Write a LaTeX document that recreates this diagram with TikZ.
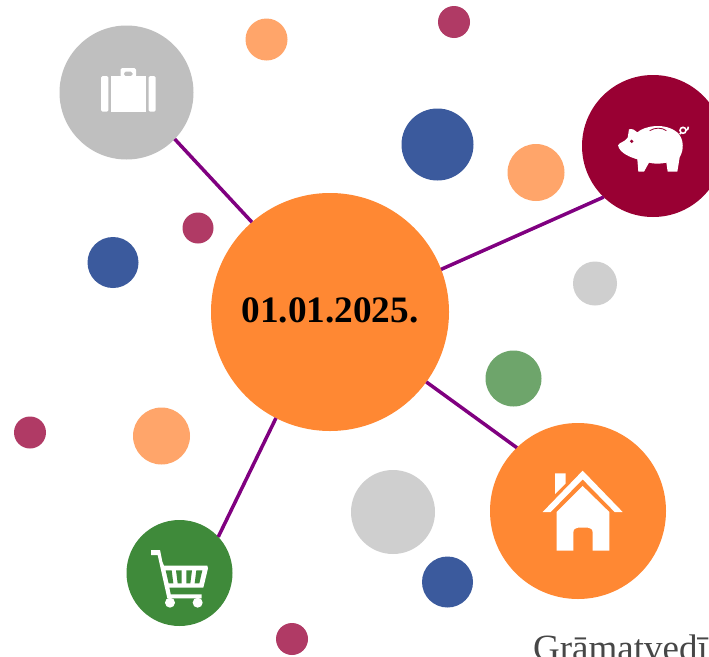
\documentclass[tikz,border=0pt]{standalone}
\usepackage{fontspec}
\setmainfont{Liberation Serif}
\definecolor{hubor}{HTML}{FF8833}
\definecolor{lightor}{HTML}{FFA56A}
\definecolor{berry}{HTML}{B03A65}
\definecolor{wine}{HTML}{990033}
\definecolor{blueb}{HTML}{3B5A9D}
\definecolor{greyd}{HTML}{CFCFCF}
\definecolor{greym}{HTML}{BFBFBF}
\definecolor{greenl}{HTML}{6EA56B}
\definecolor{greend}{HTML}{3F8A3A}
\definecolor{linkc}{HTML}{800080}
\tikzset{
  dot/.style n args={2}{circle,fill=#1,draw=none,inner sep=0pt,outer sep=0pt,minimum size=#2*2pt},
  link/.style={draw=linkc,line width=3.5pt},
  icon/.style={fill=white,draw=none}
}
\begin{document}
\begin{tikzpicture}[x=1pt,y=-1pt]
\useasboundingbox (0,0) rectangle (709,656);
\clip (0,0) rectangle (709,656);
\fill[white] (0,0) rectangle (709,656);
% main nodes
\node[dot={hubor}{119}] (hub) at (330,312) {};
\node[dot={greym}{67}] (case) at (126.5,92.5) {};
\node[dot={wine}{71}] (pig) at (653,146) {};
\node[dot={hubor}{88}] (house) at (578,511) {};
\node[dot={greend}{53}] (cart) at (179.5,573) {};
\node[font=\bfseries\fontsize{37.3}{40}\selectfont] (date) at (330,310) {01.01.2025.};
% connectors
\draw[link] (hub.131.6) -- (case.-44.4);
\draw[link] (hub.21.2) -- (pig.226);
\draw[link] (hub.-36) -- (house.134.5);
\draw[link] (hub.243) -- (cart.43.8);
% decorative circles
\node[dot={lightor}{21}] (d1) at (266.5,39.5) {};
\node[dot={berry}{16}] (d2) at (454,22) {};
\node[dot={blueb}{36}] (d3) at (437.5,144.5) {};
\node[dot={lightor}{28.5}] (d4) at (536,172.5) {};
\node[dot={greyd}{22}] (d5) at (595,283.5) {};
\node[dot={berry}{15.5}] (d6) at (198,228) {};
\node[dot={blueb}{25.5}] (d7) at (113,262.5) {};
\node[dot={greenl}{28}] (d8) at (513.5,378.5) {};
\node[dot={berry}{16}] (d9) at (30,432.5) {};
\node[dot={lightor}{28.5}] (d10) at (161.5,436) {};
\node[dot={greyd}{42}] (d11) at (393,512) {};
\node[dot={blueb}{25.5}] (d12) at (447.5,582) {};
\node[dot={berry}{16}] (d13) at (292,639) {};
% suitcase icon
\fill[icon,rounded corners=1.5pt] (101,76) rectangle (108.3,111.7);
\fill[icon,rounded corners=1.5pt] (148.7,76) rectangle (155.7,111.7);
\fill[icon] (111,76) rectangle (146,111.7);
\fill[icon,rounded corners=1.5pt,even odd rule] (120.7,77) -- (120.7,68) -- (136,68) -- (136,77) -- cycle (124,76) -- (124,71.7) -- (132.7,71.7) -- (132.7,76) -- cycle;
% piggy icon
\begin{scope}[shift={(579,70)},scale=1/3]
\fill[icon] (117,226) .. controls (122,216) and (135,218) .. (146,203)
  -- (150,178) .. controls (160,175) and (168,180) .. (175,187)
  .. controls (195,168) and (260,155) .. (298,190)
  .. controls (315,210) and (315,240) .. (302,262)
  -- (295,305) -- (266,305) -- (262,278) .. controls (245,282) and (225,282) .. (210,278)
  -- (195,305) -- (178,305) -- (175,268)
  .. controls (155,262) and (122,250) .. (117,226) -- cycle;
\fill[wine] (158,214) circle[radius=5.5];
\draw[wine,line width=0.8pt] (212,182) .. controls (228,172) and (248,172) .. (262,182);
\draw[white,line width=1.6pt] (312,181) circle[radius=9];
\draw[white,line width=1.6pt] (302,192) -- (306,189) (321,181) .. controls (326,180) and (328,176) .. (328,170);
\end{scope}
% house icon
\begin{scope}[shift={(520,450)},scale=1/3]
\fill[icon] (105,70) -- (137,70) -- (137,100) -- (105,132) -- cycle;
\fill[icon] (188,62) -- (308,186) -- (284,186) -- (188,88) -- (92,186) -- (68,186) -- cycle;
\fill[icon] (188,108) -- (268,186) -- (268,302) -- (218,302) -- (218,248)
  .. controls (218,238) and (212,233) .. (204,233) -- (174,233)
  .. controls (166,233) and (160,238) .. (160,248) -- (160,302) -- (110,302) -- (110,186) -- cycle;
\end{scope}
% cart icon
\begin{scope}[shift={(120,515)},scale=1/3]
\fill[icon] (93,105) -- (120,105) -- (127,140) -- (132,152) -- (262,152) -- (264,160) -- (250,218) -- (148,218) -- (152,238) -- (245,238) -- (245,250) -- (142,250) -- (113,120) -- (93,120) -- cycle;
\fill[greend] (137,166) -- (155,166) -- (160,205) -- (146,205) -- cycle;
\fill[greend] (168,166) -- (185,166) -- (185,205) -- (173,205) -- cycle;
\fill[greend] (199,166) -- (216,166) -- (211,205) -- (199,205) -- cycle;
\fill[greend] (229,166) -- (247,166) -- (238,205) -- (224,205) -- cycle;
\fill[icon] (150,263) circle[radius=15];
\fill[icon] (233,263) circle[radius=15];
\end{scope}
% clipped caption
\node[anchor=base west,inner sep=0pt,text=black!72,font=\fontsize{37}{40}\selectfont] (cap) at (533,660) {Grāmatvedī};
\end{tikzpicture}
\end{document}
